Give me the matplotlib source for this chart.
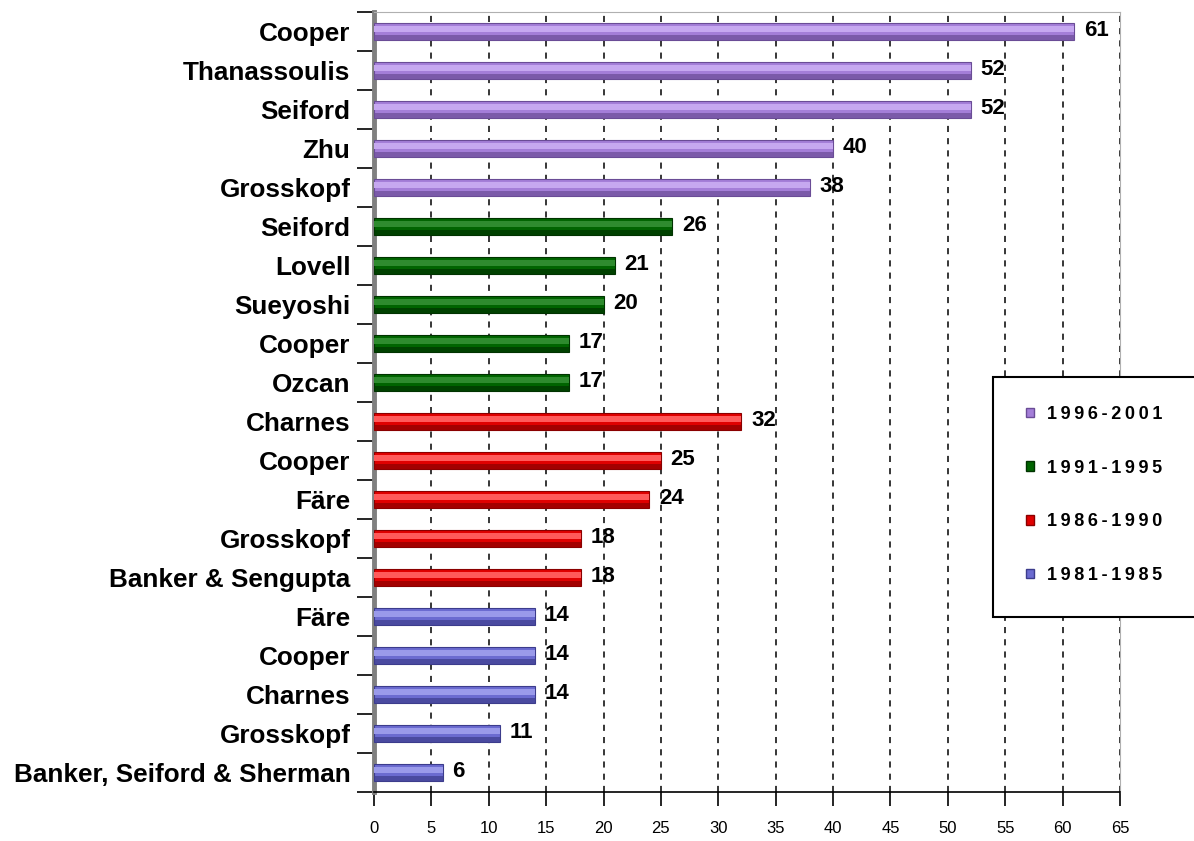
import matplotlib.pyplot as plt
import numpy as np
from matplotlib.patches import Patch, Rectangle

# data, bottom row first
names = ["Banker, Seiford & Sherman", "Grosskopf", "Charnes", "Cooper", "Färe",
         "Banker & Sengupta", "Grosskopf", "Färe", "Cooper", "Charnes",
         "Ozcan", "Cooper", "Sueyoshi", "Lovell", "Seiford",
         "Grosskopf", "Zhu", "Seiford", "Thanassoulis", "Cooper"]
values = [6, 11, 14, 14, 14,
          18, 18, 24, 25, 32,
          17, 17, 20, 21, 26,
          38, 40, 52, 52, 61]
periods = ["1981-1985"] * 5 + ["1986-1990"] * 5 + ["1991-1995"] * 5 + ["1996-2001"] * 5
period_order = ["1996-2001", "1991-1995", "1986-1990", "1981-1985"]

colors = {"1981-1985": "#6b6bd0", "1986-1990": "#e00000",
          "1991-1995": "#006400", "1996-2001": "#a47ed8"}
darks = {"1981-1985": "#3c3c8c", "1986-1990": "#8a0000",
         "1991-1995": "#003300", "1996-2001": "#6a4c96"}
lights = {"1981-1985": "#9a9aea", "1986-1990": "#ff5a5a",
          "1991-1995": "#2e8b2e", "1996-2001": "#c6a8f0"}

plt.rcParams['font.family'] = ['Liberation Sans', 'DejaVu Sans']

fig = plt.figure(figsize=(11.94, 8.41), dpi=100)
ax = fig.add_axes([374 / 1194, 1 - 792 / 841, 746 / 1194, 780 / 841])

y = np.arange(len(names))
bar_c = [colors[p] for p in periods]
dark_c = [darks[p] for p in periods]
light_c = [lights[p] for p in periods]

ax.barh(y, values, height=0.44, color=bar_c, edgecolor=dark_c, linewidth=0.8, zorder=3)
# highlight and shadow strips for the tube look
ax.barh(y + 0.07, values, height=0.14, color=light_c, linewidth=0, zorder=4)
ax.barh(y - 0.15, values, height=0.12, color=dark_c, linewidth=0, zorder=4, alpha=0.7)

for yi, v in zip(y, values):
    ax.annotate(str(v), (v, yi), xytext=(7, 1), textcoords="offset points",
                va="center", ha="left", fontsize=16, fontweight="bold", zorder=5)

ax.set_xlim(0, 65)
ax.set_ylim(-0.5, len(names) - 0.5)
ax.set_xticks(np.arange(0, 66, 5))
ax.tick_params(axis="x", length=10, width=1.2, labelsize=12, pad=11)
for lab in ax.get_xticklabels():
    lab.set_family(['Liberation Sans Narrow', 'Liberation Sans'])

ax.set_yticks(y)
ax.set_yticklabels(names, fontsize=18.8, fontweight="bold")
ax.tick_params(axis="y", which="major", length=0, pad=17)
ax.set_yticks(np.arange(-0.5, len(names), 1), minor=True)
ax.tick_params(axis="y", which="minor", length=12, width=1.2)

ax.grid(axis="x", linestyle=(0, (4, 4)), color="black", linewidth=1.1, zorder=1)
ax.set_axisbelow(True)

ax.spines["left"].set_color("#808080")
ax.spines["left"].set_linewidth(3.5)
ax.spines["bottom"].set_linewidth(1.2)
ax.spines["top"].set_color("#b0b0b0")
ax.spines["right"].set_color("#b0b0b0")

# legend box runs off the right edge
fig.patches.append(Rectangle((993 / 1194, 1 - 617 / 841), 0.3, 240 / 841,
                             transform=fig.transFigure, facecolor="white",
                             edgecolor="black", linewidth=1.5, zorder=5))
handles = [Patch(facecolor=colors[p], edgecolor=darks[p], label=p) for p in period_order]
leg = fig.legend(handles=handles, loc="upper left",
                 bbox_to_anchor=(1026 / 1194, 1 - 406 / 841),
                 frameon=False, prop={"weight": "bold", "size": 13},
                 labelspacing=2.03, handlelength=0.45, handleheight=0.45,
                 handletextpad=0.7, borderpad=0, borderaxespad=0)
leg.set_zorder(6)
for t in leg.get_texts():
    t.set_text("\u2009".join(t.get_text()))

fig.savefig("out.png", dpi=100)
